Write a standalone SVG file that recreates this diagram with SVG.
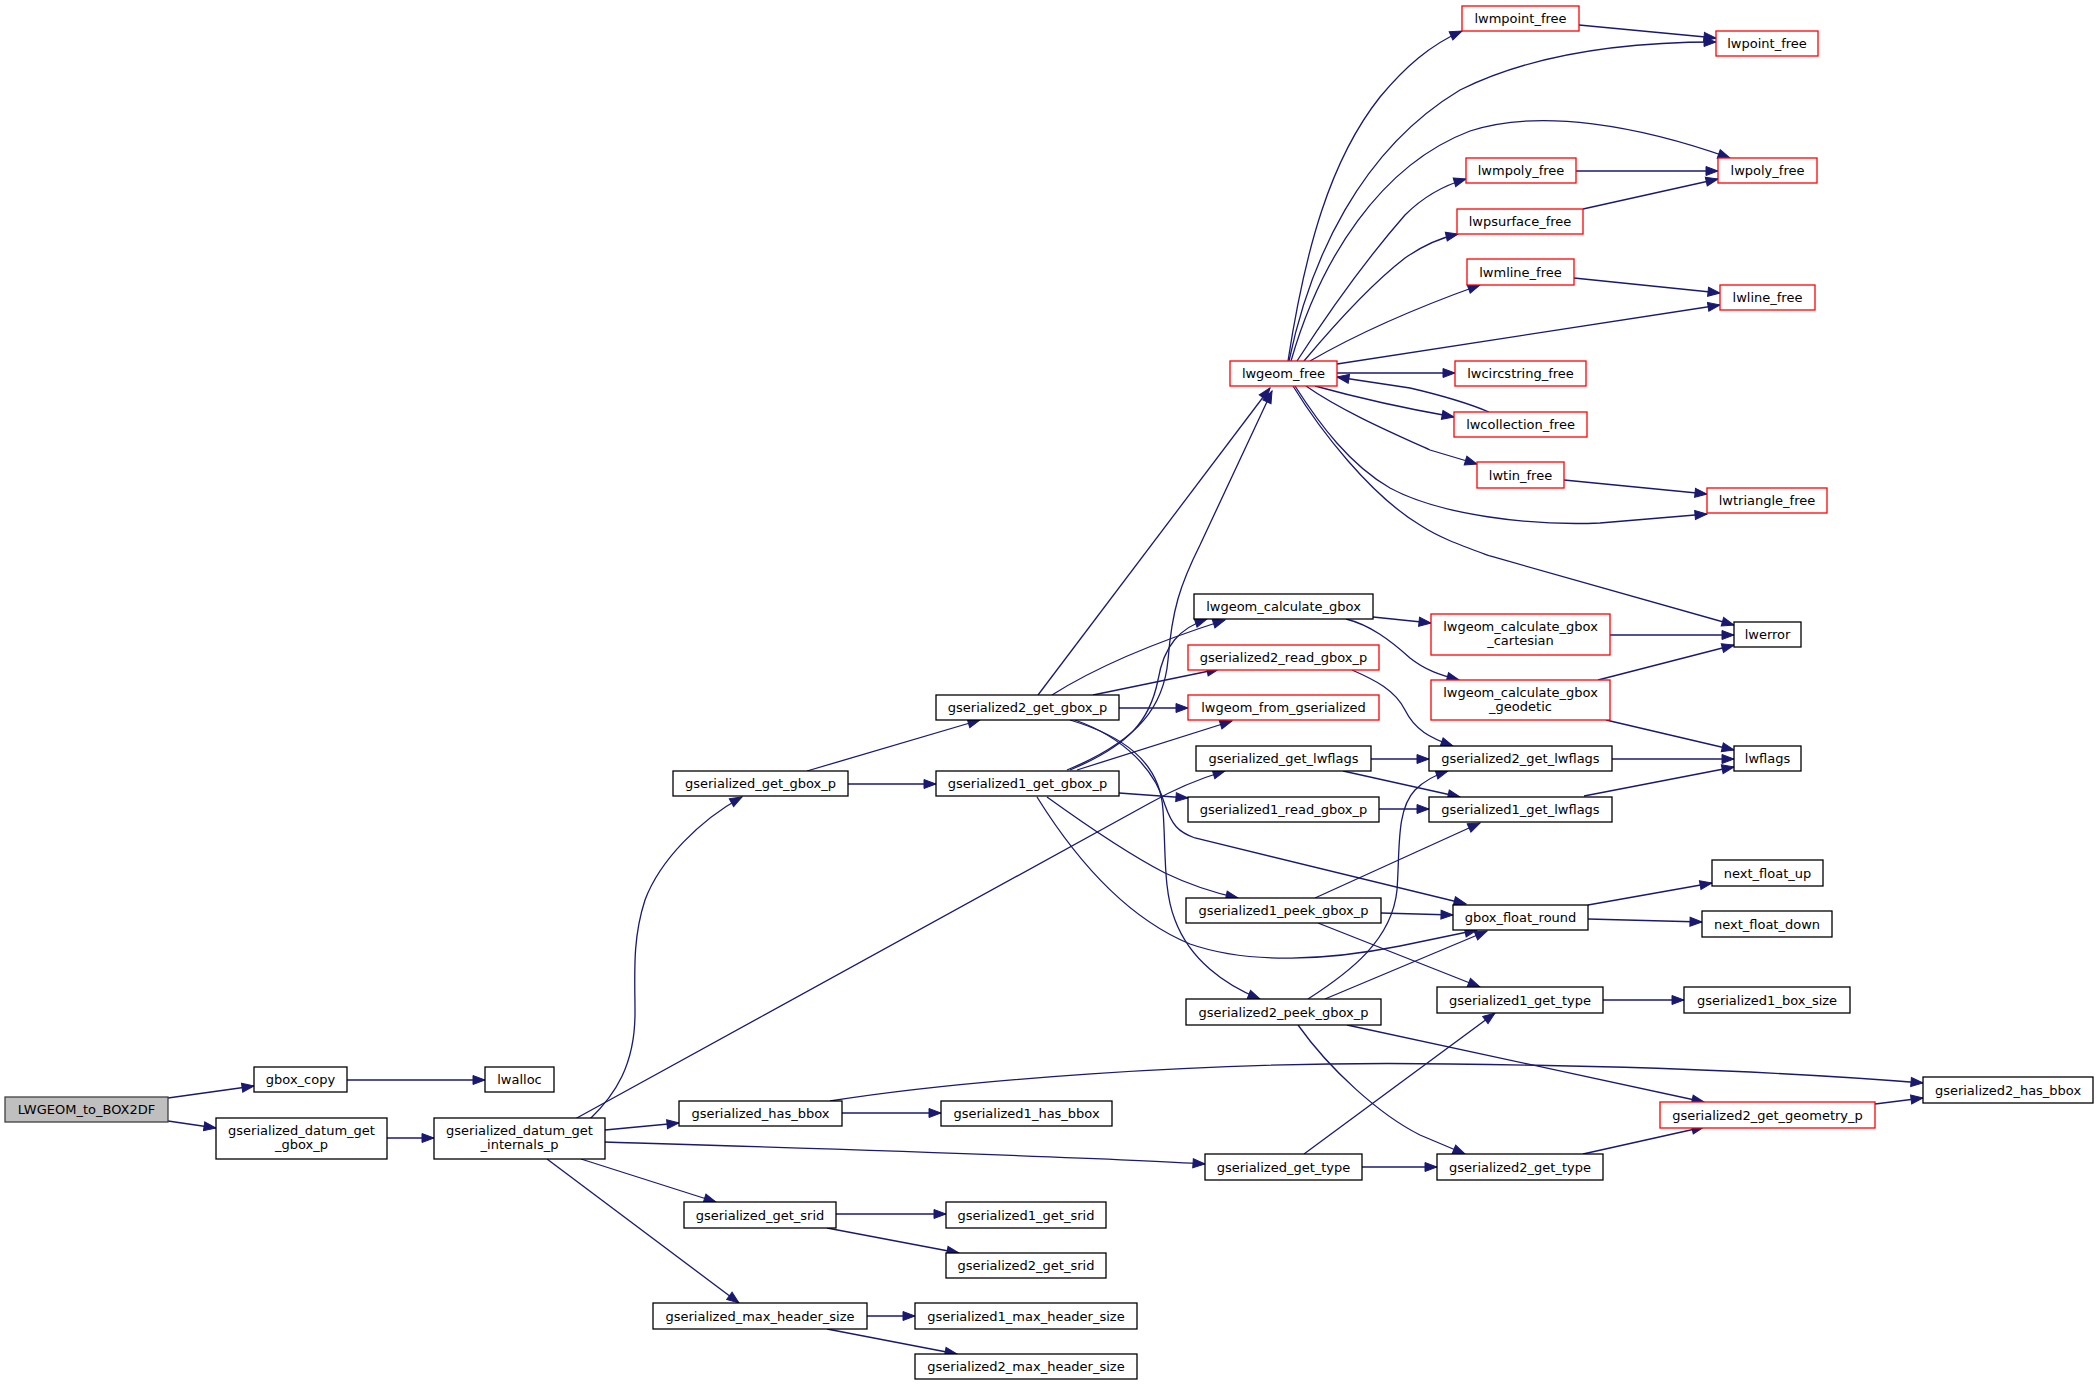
<svg xmlns="http://www.w3.org/2000/svg" width="2099" height="1385" viewBox="0 0 2099 1385">
<defs>
<marker id="a" markerUnits="userSpaceOnUse" markerWidth="14" markerHeight="11" refX="12" refY="4.5" orient="auto" overflow="visible"><path d="M0,0 L12,4.5 L0,9 z" fill="#191970" stroke="#191970" stroke-width="1"/></marker>
</defs>
<style>
.n rect{fill:#fff;stroke:#000;stroke-width:1.3}
.r rect{stroke:#ff0000}
.root rect{fill:#bfbfbf;stroke:#404040}
text{font-family:"DejaVu Sans","Liberation Sans",sans-serif;font-size:13px;text-anchor:middle;fill:#000}
#edges path{fill:none;stroke:#191970;stroke-width:1.3;marker-end:url(#a)}
</style>
<rect x="0" y="0" width="2099" height="1385" fill="#fff"/>
<g id="edges">
<path d="M168,1098 L254,1086"/>
<path d="M168,1121 L216,1128"/>
<path d="M347,1080 L485,1080"/>
<path d="M387,1138 L434,1138"/>
<path d="M590,1119 C615,1095 635,1065 635,1013 C635,975 632,940 645,900 C660,860 700,820 742,797"/>
<path d="M575,1119 L1150,803 Q1185,783 1225,771"/>
<path d="M605,1130 L679,1123"/>
<path d="M605,1142 C800,1148 1100,1157 1205,1164"/>
<path d="M581,1159 L716,1202"/>
<path d="M547,1159 L739,1303"/>
<path d="M807,771 L980,720"/>
<path d="M848,784 L936,784"/>
<path d="M1038,695 L1270,388"/>
<path d="M1052,695 Q1115,655 1225,620"/>
<path d="M1093,695 L1219,669"/>
<path d="M1119,708 L1188,708"/>
<path d="M1070,720 C1120,735 1160,760 1163,810 C1166,850 1163,890 1175,920 C1190,960 1225,985 1260,999"/>
<path d="M1075,720 C1125,738 1155,770 1165,805 C1172,825 1178,832 1195,838 L1466,904"/>
<path d="M1067,770 C1140,740 1164,705 1168,660 C1172,610 1180,585 1200,545 L1272,391"/>
<path d="M1070,770 C1130,745 1150,720 1158,680 C1164,645 1180,628 1207,619"/>
<path d="M1077,770 L1232,721"/>
<path d="M1119,793 L1188,798"/>
<path d="M1047,797 C1090,828 1130,855 1165,873 C1190,885 1215,893 1238,898"/>
<path d="M1037,797 C1070,850 1120,915 1190,944 C1250,965 1330,960 1400,946 L1477,930"/>
<path d="M1288,361 C1305,250 1330,160 1380,97 C1405,67 1430,45 1462,31"/>
<path d="M1289,361 C1310,260 1360,150 1460,90 C1530,55 1620,42 1716,42"/>
<path d="M1291,361 C1320,260 1380,165 1470,131 C1540,108 1640,126 1730,158"/>
<path d="M1297,361 C1330,310 1370,255 1405,215 C1425,195 1445,185 1466,179"/>
<path d="M1304,361 C1330,330 1370,285 1405,258 C1425,244 1440,238 1458,234"/>
<path d="M1310,361 C1355,335 1410,310 1480,285"/>
<path d="M1337,364 L1720,305"/>
<path d="M1337,373 L1455,373"/>
<path d="M1315,386 Q1380,404 1454,417"/>
<path d="M1489,412 C1470,404 1440,395 1410,388 L1337,377"/>
<path d="M1306,386 C1340,410 1390,432 1430,450 L1477,464"/>
<path d="M1295,386 C1320,425 1350,465 1390,488 C1440,515 1530,526 1600,523 L1707,514"/>
<path d="M1293,386 C1320,430 1370,495 1420,525 C1440,538 1460,545 1490,556 L1734,625"/>
<path d="M1579,25 L1716,38"/>
<path d="M1576,171 L1718,171"/>
<path d="M1583,209 L1718,179"/>
<path d="M1574,278 L1720,293"/>
<path d="M1564,480 L1707,494"/>
<path d="M1373,617 L1431,623"/>
<path d="M1346,619 C1370,625 1390,640 1410,658 C1425,670 1440,675 1459,680"/>
<path d="M1610,635 L1734,635"/>
<path d="M1598,680 L1734,645"/>
<path d="M1606,720 L1734,750"/>
<path d="M1352,670 C1375,680 1395,690 1405,710 C1415,730 1430,738 1453,746"/>
<path d="M1371,759 L1429,759"/>
<path d="M1343,771 L1460,797"/>
<path d="M1612,759 L1734,759"/>
<path d="M1584,796 L1734,767"/>
<path d="M1379,809 L1429,809"/>
<path d="M1315,898 L1480,823"/>
<path d="M1381,913 L1453,915"/>
<path d="M1318,923 L1480,987"/>
<path d="M1308,999 C1350,972 1392,940 1397,890 C1400,850 1396,810 1415,790 C1425,780 1435,775 1448,771"/>
<path d="M1325,999 L1487,931"/>
<path d="M1347,1025 L1704,1102"/>
<path d="M1298,1025 C1330,1070 1380,1115 1420,1135 L1465,1154"/>
<path d="M1588,905 L1712,883"/>
<path d="M1588,919 L1702,922"/>
<path d="M1603,1000 L1684,1000"/>
<path d="M842,1113 L941,1113"/>
<path d="M830,1101 C950,1082 1200,1060 1450,1064 C1650,1066 1800,1073 1923,1083"/>
<path d="M1304,1154 L1495,1013"/>
<path d="M1362,1167 L1437,1167"/>
<path d="M1583,1154 L1704,1127"/>
<path d="M1875,1104 L1923,1098"/>
<path d="M836,1214 L946,1214"/>
<path d="M827,1228 L959,1253"/>
<path d="M867,1316 L915,1316"/>
<path d="M827,1329 L957,1354"/>
</g>
<g id="node1" class="n root"><rect x="5" y="1097" width="163" height="25"/><text x="86.5" y="1114">LWGEOM_to_BOX2DF</text></g>
<g id="node2" class="n"><rect x="254" y="1067" width="93" height="25"/><text x="300.5" y="1084">gbox_copy</text></g>
<g id="node3" class="n"><rect x="485" y="1067" width="69" height="25"/><text x="519.5" y="1084">lwalloc</text></g>
<g id="node4" class="n"><rect x="216" y="1118" width="171" height="41"/><text x="301.5" y="1135">gserialized_datum_get</text><text x="301.5" y="1149">_gbox_p</text></g>
<g id="node5" class="n"><rect x="434" y="1118" width="171" height="41"/><text x="519.5" y="1135">gserialized_datum_get</text><text x="519.5" y="1149">_internals_p</text></g>
<g id="node6" class="n"><rect x="673" y="771" width="175" height="25"/><text x="760.5" y="788">gserialized_get_gbox_p</text></g>
<g id="node7" class="n"><rect x="936" y="695" width="183" height="25"/><text x="1027.5" y="712">gserialized2_get_gbox_p</text></g>
<g id="node8" class="n"><rect x="936" y="771" width="183" height="25"/><text x="1027.5" y="788">gserialized1_get_gbox_p</text></g>
<g id="node9" class="n r"><rect x="1230" y="361" width="107" height="25"/><text x="1283.5" y="378">lwgeom_free</text></g>
<g id="node10" class="n r"><rect x="1462" y="6" width="117" height="25"/><text x="1520.5" y="23">lwmpoint_free</text></g>
<g id="node11" class="n r"><rect x="1716" y="31" width="102" height="25"/><text x="1767" y="48">lwpoint_free</text></g>
<g id="node12" class="n r"><rect x="1466" y="158" width="110" height="25"/><text x="1521" y="175">lwmpoly_free</text></g>
<g id="node13" class="n r"><rect x="1718" y="158" width="99" height="25"/><text x="1767.5" y="175">lwpoly_free</text></g>
<g id="node14" class="n r"><rect x="1457" y="209" width="126" height="25"/><text x="1520" y="226">lwpsurface_free</text></g>
<g id="node15" class="n r"><rect x="1467" y="259" width="107" height="26"/><text x="1520.5" y="277">lwmline_free</text></g>
<g id="node16" class="n r"><rect x="1720" y="285" width="95" height="25"/><text x="1767.5" y="302">lwline_free</text></g>
<g id="node17" class="n r"><rect x="1455" y="361" width="131" height="25"/><text x="1520.5" y="378">lwcircstring_free</text></g>
<g id="node18" class="n r"><rect x="1454" y="412" width="133" height="25"/><text x="1520.5" y="429">lwcollection_free</text></g>
<g id="node19" class="n r"><rect x="1477" y="462" width="87" height="26"/><text x="1520.5" y="480">lwtin_free</text></g>
<g id="node20" class="n r"><rect x="1707" y="488" width="120" height="25"/><text x="1767" y="505">lwtriangle_free</text></g>
<g id="node21" class="n"><rect x="1734" y="622" width="67" height="25"/><text x="1767.5" y="639">lwerror</text></g>
<g id="node22" class="n"><rect x="1194" y="594" width="179" height="25"/><text x="1283.5" y="611">lwgeom_calculate_gbox</text></g>
<g id="node23" class="n r"><rect x="1431" y="614" width="179" height="41"/><text x="1520.5" y="631">lwgeom_calculate_gbox</text><text x="1520.5" y="645">_cartesian</text></g>
<g id="node24" class="n r"><rect x="1188" y="645" width="191" height="25"/><text x="1283.5" y="662">gserialized2_read_gbox_p</text></g>
<g id="node25" class="n r"><rect x="1188" y="695" width="191" height="25"/><text x="1283.5" y="712">lwgeom_from_gserialized</text></g>
<g id="node26" class="n r"><rect x="1431" y="680" width="179" height="40"/><text x="1520.5" y="697">lwgeom_calculate_gbox</text><text x="1520.5" y="711">_geodetic</text></g>
<g id="node27" class="n"><rect x="1196" y="746" width="175" height="25"/><text x="1283.5" y="763">gserialized_get_lwflags</text></g>
<g id="node28" class="n"><rect x="1429" y="746" width="183" height="25"/><text x="1520.5" y="763">gserialized2_get_lwflags</text></g>
<g id="node29" class="n"><rect x="1734" y="746" width="67" height="25"/><text x="1767.5" y="763">lwflags</text></g>
<g id="node30" class="n"><rect x="1188" y="797" width="191" height="25"/><text x="1283.5" y="814">gserialized1_read_gbox_p</text></g>
<g id="node31" class="n"><rect x="1429" y="797" width="183" height="25"/><text x="1520.5" y="814">gserialized1_get_lwflags</text></g>
<g id="node32" class="n"><rect x="1712" y="860" width="111" height="26"/><text x="1767.5" y="878">next_float_up</text></g>
<g id="node33" class="n"><rect x="1453" y="905" width="135" height="25"/><text x="1520.5" y="922">gbox_float_round</text></g>
<g id="node34" class="n"><rect x="1702" y="911" width="130" height="26"/><text x="1767" y="929">next_float_down</text></g>
<g id="node35" class="n"><rect x="1186" y="898" width="195" height="25"/><text x="1283.5" y="915">gserialized1_peek_gbox_p</text></g>
<g id="node36" class="n"><rect x="1186" y="999" width="195" height="26"/><text x="1283.5" y="1017">gserialized2_peek_gbox_p</text></g>
<g id="node37" class="n"><rect x="1437" y="987" width="166" height="26"/><text x="1520" y="1005">gserialized1_get_type</text></g>
<g id="node38" class="n"><rect x="1684" y="987" width="166" height="26"/><text x="1767" y="1005">gserialized1_box_size</text></g>
<g id="node39" class="n"><rect x="1923" y="1077" width="170" height="26"/><text x="2008" y="1095">gserialized2_has_bbox</text></g>
<g id="node40" class="n r"><rect x="1660" y="1102" width="215" height="26"/><text x="1767.5" y="1120">gserialized2_get_geometry_p</text></g>
<g id="node41" class="n"><rect x="679" y="1101" width="163" height="25"/><text x="760.5" y="1118">gserialized_has_bbox</text></g>
<g id="node42" class="n"><rect x="941" y="1101" width="171" height="25"/><text x="1026.5" y="1118">gserialized1_has_bbox</text></g>
<g id="node43" class="n"><rect x="1205" y="1154" width="157" height="26"/><text x="1283.5" y="1172">gserialized_get_type</text></g>
<g id="node44" class="n"><rect x="1437" y="1154" width="166" height="26"/><text x="1520" y="1172">gserialized2_get_type</text></g>
<g id="node45" class="n"><rect x="684" y="1202" width="152" height="26"/><text x="760" y="1220">gserialized_get_srid</text></g>
<g id="node46" class="n"><rect x="946" y="1202" width="160" height="26"/><text x="1026" y="1220">gserialized1_get_srid</text></g>
<g id="node47" class="n"><rect x="946" y="1253" width="160" height="25"/><text x="1026" y="1270">gserialized2_get_srid</text></g>
<g id="node48" class="n"><rect x="653" y="1303" width="214" height="26"/><text x="760" y="1321">gserialized_max_header_size</text></g>
<g id="node49" class="n"><rect x="915" y="1303" width="222" height="26"/><text x="1026" y="1321">gserialized1_max_header_size</text></g>
<g id="node50" class="n"><rect x="915" y="1354" width="222" height="25"/><text x="1026" y="1371">gserialized2_max_header_size</text></g>
</svg>
